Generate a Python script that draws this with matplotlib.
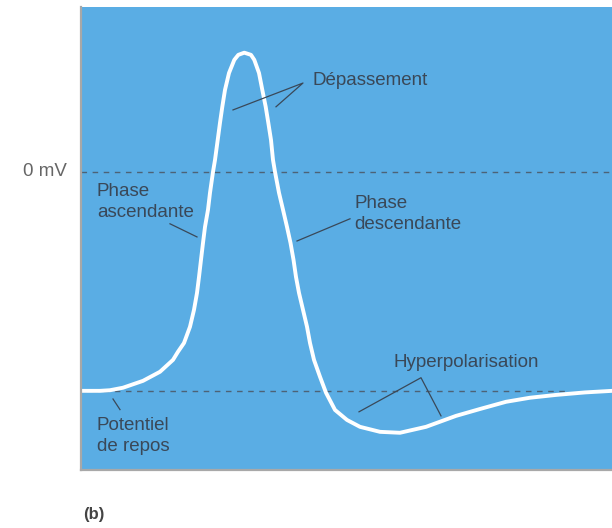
import matplotlib.pyplot as plt

# membrane potential (time in ms, potential in mV)
time_ms = [0.00, 0.19, 0.29, 0.42, 0.62, 0.79, 0.92, 0.97, 1.03, 1.09, 1.13, 1.16,
           1.18, 1.20, 1.22, 1.24, 1.27, 1.29, 1.32, 1.34, 1.367, 1.39, 1.413, 1.44,
           1.48, 1.533, 1.573, 1.633, 1.70, 1.733, 1.78, 1.813, 1.847, 1.873, 1.90, 1.92,
           1.94, 1.98, 2.02, 2.06, 2.095, 2.125, 2.15, 2.18, 2.22, 2.26, 2.29, 2.33,
           2.39, 2.45, 2.54, 2.66, 2.79, 2.99, 3.19, 3.45, 3.75, 3.99, 4.25, 4.49,
           4.75, 5.04, 5.31]
potential_mv = [-70.0, -70.0, -69.8, -69.0, -66.8, -63.9, -60.1, -57.5, -54.7, -49.5, -44.1, -38.7,
                -33.6, -28.1, -22.7, -17.6, -12.1, -6.7, 0.0, 3.8, 10.2, 15.7, 20.8, 26.2,
                31.6, 35.8, 37.4, 38.1, 37.4, 35.8, 31.6, 26.2, 20.8, 15.7, 10.2, 3.8,
                0.0, -6.7, -12.1, -17.6, -22.7, -28.1, -33.6, -38.7, -44.1, -49.5, -54.7, -60.1,
                -65.5, -70.6, -76.1, -79.3, -81.5, -83.1, -83.4, -81.5, -78.0, -75.8, -73.5, -72.2,
                -71.3, -70.5, -70.0]

zero_mv = 0
rest_mv = -70

labels = ["Dépassement", "Phase\nascendante", "Phase\ndescendante",
          "Potentiel\nde repos", "Hyperpolarisation"]

blue = "#5aade4"
ink = "#3a4858"

fig = plt.figure(figsize=(6.12, 5.28), dpi=100)
ax = fig.add_axes([81/612, 1 - 470/528, 1 - 81/612, 463/528])
ax.set_facecolor(blue)
ax.set_xlim(0, 5.31)
ax.set_ylim(-95.3, 52.7)
ax.set_xticks([])
ax.set_yticks([])
for s in ["top", "right"]:
    ax.spines[s].set_visible(False)
for s in ["left", "bottom"]:
    ax.spines[s].set_color("#a8a8a8")
    ax.spines[s].set_linewidth(1.6)

# reference levels
ax.plot([0, 5.31], [zero_mv, zero_mv], ls=(0, (4, 4)), color="#4d6276", lw=1.0)
ax.plot([0, 4.85], [rest_mv, rest_mv], ls=(0, (4, 4)), color="#4d6276", lw=1.0)

# the action potential
ax.plot(time_ms, potential_mv, color="white", lw=2.8, solid_joinstyle="round",
        solid_capstyle="round")

fs = 13.5
kw = dict(color=ink, fontsize=fs, family="Liberation Sans", linespacing=1.3)
lkw = dict(color=ink, lw=0.9)

# Dépassement
ax.text(2.32, 29.1, labels[0], va="center", ha="left", **kw)
ax.plot([1.52, 2.22, 1.95], [19.8, 28.4, 20.8], **lkw)

# Phase ascendante
ax.text(0.16, -9.6, labels[1], va="center", ha="left", **kw)
ax.plot([0.89, 1.16], [-16.6, -20.8], **lkw)

# Phase descendante
ax.text(2.73, -13.4, labels[2], va="center", ha="left", **kw)
ax.plot([2.16, 2.69], [-22.1, -15.0], **lkw)

# Potentiel de repos
ax.text(0.16, -84.4, labels[3], va="center", ha="left", **kw)
ax.plot([0.32, 0.39], [-72.6, -76.0], **lkw)

# Hyperpolarisation
ax.text(3.12, -61.0, labels[4], va="center", ha="left", **kw)
ax.plot([2.78, 3.40, 3.60], [-76.7, -65.8, -78.0], **lkw)

ax.text(-0.14, zero_mv, "0 mV", ha="right", va="center", color="#666666",
        fontsize=fs, family="Liberation Sans", clip_on=False)

fig.text(83/612, 1 - 514/528, "(b)", ha="left", va="center", color="#444444",
         fontsize=12, family="Liberation Sans", fontweight="bold")

fig.savefig("out.png", dpi=100)
